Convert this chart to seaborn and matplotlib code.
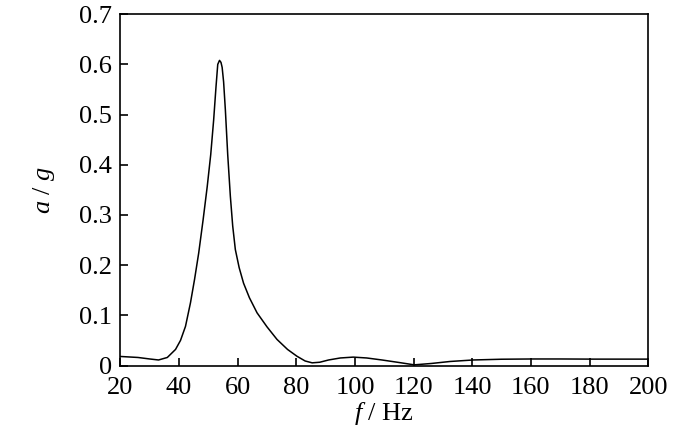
import numpy as np
import pandas as pd
import matplotlib
matplotlib.use("Agg")
import matplotlib.pyplot as plt
import seaborn as sns

freq = [20, 26, 30, 33, 36, 38.8, 40.5, 42.2, 43.9, 45.3, 46.7, 48.2, 49.6, 50.8, 51.8, 52.6, 53.2,
        53.8, 54.3, 54.7, 55.2, 55.8, 56.6, 57.5, 58.3, 59.2, 60.5, 62, 64, 66.6, 70, 73.4, 77,
        80.2, 83, 85.4, 88, 91, 95, 99.4, 104, 109.2, 115, 120.2, 126, 132.4, 140.3, 150,
        160.5, 170, 181.3, 190, 200]
accel = [0.018, 0.016, 0.013, 0.011, 0.016, 0.032, 0.050, 0.078, 0.125, 0.172, 0.224, 0.290, 0.356,
         0.420, 0.489, 0.555, 0.600, 0.608, 0.604, 0.594, 0.565, 0.509, 0.420, 0.337, 0.278, 0.231,
         0.195, 0.164, 0.135, 0.105, 0.077, 0.052, 0.032, 0.0185, 0.009, 0.0053, 0.0065, 0.011,
         0.015, 0.0167, 0.015, 0.011, 0.006, 0.0013, 0.004, 0.008, 0.011, 0.0125, 0.013, 0.013,
         0.0127, 0.0127, 0.0127]

sns.set_theme(style="white")
plt.rcParams['font.family'] = ['Liberation Serif', 'DejaVu Serif']
plt.rcParams['mathtext.fontset'] = 'custom'
plt.rcParams['mathtext.rm'] = 'Liberation Serif'
plt.rcParams['mathtext.it'] = 'Liberation Serif:italic'
plt.rcParams['axes.labelcolor'] = 'black'
plt.rcParams['text.color'] = 'black'

df = pd.DataFrame({"f": freq, "a": accel})

fig = plt.figure(figsize=(7, 4.3), dpi=100)
ax = fig.add_axes([0.172, 0.150, 0.754, 0.817])
sns.lineplot(data=df, x="f", y="a", ax=ax, color="black", linewidth=1.1)

ax.set_xlim(20, 200)
ax.set_ylim(0, 0.7)
ax.set_xticks([20, 40, 60, 80, 100, 120, 140, 160, 180, 200])
ax.set_yticks([0, 0.1, 0.2, 0.3, 0.4, 0.5, 0.6, 0.7])
ax.set_yticklabels(["0", "0.1", "0.2", "0.3", "0.4", "0.5", "0.6", "0.7"])
ax.tick_params(direction="in", length=6, width=1.2, labelsize=19, colors="black",
               top=False, right=False, bottom=True, left=True)
ax.tick_params(axis="x", pad=8)
ax.tick_params(axis="y", pad=6)
for s in ax.spines.values():
    s.set_color("black")
    s.set_linewidth(1.2)
ax.set_xlabel("$f$ / Hz", fontsize=19, labelpad=1, color="black")
ax.set_ylabel("$a$ / $g$", fontsize=19, labelpad=16, color="black")

fig.savefig("out.png", dpi=100)
